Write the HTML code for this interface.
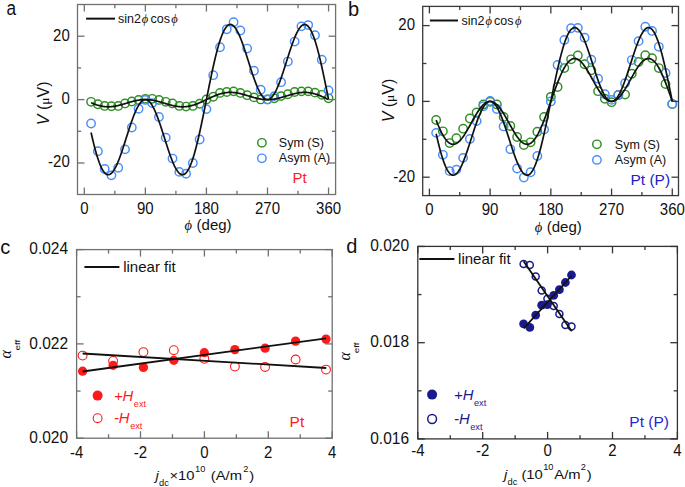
<!DOCTYPE html>
<html><head><meta charset="utf-8"><style>
html,body{margin:0;padding:0;background:#fff;}
svg{display:block;font-family:"Liberation Sans", sans-serif;}
</style></head><body>
<svg width="685" height="487" viewBox="0 0 685 487">
<rect width="685" height="487" fill="#fff"/>
<circle cx="91.08" cy="101.82" r="4.2" fill="none" stroke="#2f8f22" stroke-width="1.45"/>
<circle cx="97.87" cy="104.20" r="4.2" fill="none" stroke="#2f8f22" stroke-width="1.45"/>
<circle cx="104.66" cy="105.94" r="4.2" fill="none" stroke="#2f8f22" stroke-width="1.45"/>
<circle cx="111.44" cy="106.26" r="4.2" fill="none" stroke="#2f8f22" stroke-width="1.45"/>
<circle cx="118.22" cy="105.94" r="4.2" fill="none" stroke="#2f8f22" stroke-width="1.45"/>
<circle cx="125.01" cy="103.40" r="4.2" fill="none" stroke="#2f8f22" stroke-width="1.45"/>
<circle cx="131.79" cy="101.50" r="4.2" fill="none" stroke="#2f8f22" stroke-width="1.45"/>
<circle cx="138.58" cy="99.92" r="4.2" fill="none" stroke="#2f8f22" stroke-width="1.45"/>
<circle cx="145.37" cy="98.81" r="4.2" fill="none" stroke="#2f8f22" stroke-width="1.45"/>
<circle cx="152.15" cy="98.81" r="4.2" fill="none" stroke="#2f8f22" stroke-width="1.45"/>
<circle cx="158.94" cy="99.92" r="4.2" fill="none" stroke="#2f8f22" stroke-width="1.45"/>
<circle cx="165.72" cy="101.82" r="4.2" fill="none" stroke="#2f8f22" stroke-width="1.45"/>
<circle cx="172.50" cy="103.40" r="4.2" fill="none" stroke="#2f8f22" stroke-width="1.45"/>
<circle cx="179.29" cy="105.94" r="4.2" fill="none" stroke="#2f8f22" stroke-width="1.45"/>
<circle cx="186.07" cy="106.57" r="4.2" fill="none" stroke="#2f8f22" stroke-width="1.45"/>
<circle cx="192.86" cy="105.94" r="4.2" fill="none" stroke="#2f8f22" stroke-width="1.45"/>
<circle cx="199.64" cy="103.72" r="4.2" fill="none" stroke="#2f8f22" stroke-width="1.45"/>
<circle cx="206.43" cy="99.41" r="4.2" fill="none" stroke="#2f8f22" stroke-width="1.45"/>
<circle cx="213.21" cy="96.75" r="4.2" fill="none" stroke="#2f8f22" stroke-width="1.45"/>
<circle cx="220.00" cy="92.94" r="4.2" fill="none" stroke="#2f8f22" stroke-width="1.45"/>
<circle cx="226.78" cy="91.99" r="4.2" fill="none" stroke="#2f8f22" stroke-width="1.45"/>
<circle cx="233.57" cy="91.36" r="4.2" fill="none" stroke="#2f8f22" stroke-width="1.45"/>
<circle cx="240.36" cy="92.94" r="4.2" fill="none" stroke="#2f8f22" stroke-width="1.45"/>
<circle cx="247.14" cy="95.16" r="4.2" fill="none" stroke="#2f8f22" stroke-width="1.45"/>
<circle cx="253.93" cy="97.38" r="4.2" fill="none" stroke="#2f8f22" stroke-width="1.45"/>
<circle cx="260.71" cy="99.41" r="4.2" fill="none" stroke="#2f8f22" stroke-width="1.45"/>
<circle cx="267.50" cy="99.41" r="4.2" fill="none" stroke="#2f8f22" stroke-width="1.45"/>
<circle cx="274.28" cy="98.33" r="4.2" fill="none" stroke="#2f8f22" stroke-width="1.45"/>
<circle cx="281.06" cy="96.11" r="4.2" fill="none" stroke="#2f8f22" stroke-width="1.45"/>
<circle cx="287.85" cy="94.21" r="4.2" fill="none" stroke="#2f8f22" stroke-width="1.45"/>
<circle cx="294.63" cy="91.99" r="4.2" fill="none" stroke="#2f8f22" stroke-width="1.45"/>
<circle cx="301.42" cy="91.36" r="4.2" fill="none" stroke="#2f8f22" stroke-width="1.45"/>
<circle cx="308.20" cy="91.36" r="4.2" fill="none" stroke="#2f8f22" stroke-width="1.45"/>
<circle cx="314.99" cy="92.63" r="4.2" fill="none" stroke="#2f8f22" stroke-width="1.45"/>
<circle cx="321.77" cy="94.84" r="4.2" fill="none" stroke="#2f8f22" stroke-width="1.45"/>
<circle cx="328.56" cy="98.33" r="4.2" fill="none" stroke="#2f8f22" stroke-width="1.45"/>
<circle cx="91.08" cy="123.53" r="4.2" fill="none" stroke="#4a8ef5" stroke-width="1.45"/>
<circle cx="97.87" cy="151.27" r="4.2" fill="none" stroke="#4a8ef5" stroke-width="1.45"/>
<circle cx="104.66" cy="169.02" r="4.2" fill="none" stroke="#4a8ef5" stroke-width="1.45"/>
<circle cx="111.44" cy="175.36" r="4.2" fill="none" stroke="#4a8ef5" stroke-width="1.45"/>
<circle cx="118.22" cy="167.75" r="4.2" fill="none" stroke="#4a8ef5" stroke-width="1.45"/>
<circle cx="125.01" cy="149.37" r="4.2" fill="none" stroke="#4a8ef5" stroke-width="1.45"/>
<circle cx="131.79" cy="127.50" r="4.2" fill="none" stroke="#4a8ef5" stroke-width="1.45"/>
<circle cx="138.58" cy="108.79" r="4.2" fill="none" stroke="#4a8ef5" stroke-width="1.45"/>
<circle cx="145.37" cy="99.92" r="4.2" fill="none" stroke="#4a8ef5" stroke-width="1.45"/>
<circle cx="152.15" cy="103.09" r="4.2" fill="none" stroke="#4a8ef5" stroke-width="1.45"/>
<circle cx="158.94" cy="117.03" r="4.2" fill="none" stroke="#4a8ef5" stroke-width="1.45"/>
<circle cx="165.72" cy="137.64" r="4.2" fill="none" stroke="#4a8ef5" stroke-width="1.45"/>
<circle cx="172.50" cy="158.56" r="4.2" fill="none" stroke="#4a8ef5" stroke-width="1.45"/>
<circle cx="179.29" cy="171.88" r="4.2" fill="none" stroke="#4a8ef5" stroke-width="1.45"/>
<circle cx="186.07" cy="173.78" r="4.2" fill="none" stroke="#4a8ef5" stroke-width="1.45"/>
<circle cx="192.86" cy="163.00" r="4.2" fill="none" stroke="#4a8ef5" stroke-width="1.45"/>
<circle cx="199.64" cy="139.54" r="4.2" fill="none" stroke="#4a8ef5" stroke-width="1.45"/>
<circle cx="206.43" cy="109.11" r="4.2" fill="none" stroke="#4a8ef5" stroke-width="1.45"/>
<circle cx="213.21" cy="75.19" r="4.2" fill="none" stroke="#4a8ef5" stroke-width="1.45"/>
<circle cx="220.00" cy="47.29" r="4.2" fill="none" stroke="#4a8ef5" stroke-width="1.45"/>
<circle cx="226.78" cy="29.23" r="4.2" fill="none" stroke="#4a8ef5" stroke-width="1.45"/>
<circle cx="233.57" cy="22.25" r="4.2" fill="none" stroke="#4a8ef5" stroke-width="1.45"/>
<circle cx="240.36" cy="30.49" r="4.2" fill="none" stroke="#4a8ef5" stroke-width="1.45"/>
<circle cx="247.14" cy="48.56" r="4.2" fill="none" stroke="#4a8ef5" stroke-width="1.45"/>
<circle cx="253.93" cy="70.75" r="4.2" fill="none" stroke="#4a8ef5" stroke-width="1.45"/>
<circle cx="260.71" cy="89.77" r="4.2" fill="none" stroke="#4a8ef5" stroke-width="1.45"/>
<circle cx="267.50" cy="99.41" r="4.2" fill="none" stroke="#4a8ef5" stroke-width="1.45"/>
<circle cx="274.28" cy="96.11" r="4.2" fill="none" stroke="#4a8ef5" stroke-width="1.45"/>
<circle cx="281.06" cy="82.16" r="4.2" fill="none" stroke="#4a8ef5" stroke-width="1.45"/>
<circle cx="287.85" cy="61.56" r="4.2" fill="none" stroke="#4a8ef5" stroke-width="1.45"/>
<circle cx="294.63" cy="41.59" r="4.2" fill="none" stroke="#4a8ef5" stroke-width="1.45"/>
<circle cx="301.42" cy="26.37" r="4.2" fill="none" stroke="#4a8ef5" stroke-width="1.45"/>
<circle cx="308.20" cy="25.10" r="4.2" fill="none" stroke="#4a8ef5" stroke-width="1.45"/>
<circle cx="314.99" cy="35.25" r="4.2" fill="none" stroke="#4a8ef5" stroke-width="1.45"/>
<circle cx="321.77" cy="59.66" r="4.2" fill="none" stroke="#4a8ef5" stroke-width="1.45"/>
<circle cx="328.56" cy="90.41" r="4.2" fill="none" stroke="#4a8ef5" stroke-width="1.45"/>
<polyline points="91.08,132.49 91.76,135.50 92.44,138.44 93.12,141.30 93.80,144.08 94.48,146.75 95.16,149.33 95.83,151.81 96.51,154.18 97.19,156.44 97.87,158.57 98.55,160.59 99.23,162.49 99.91,164.25 100.58,165.88 101.26,167.39 101.94,168.75 102.62,169.98 103.30,171.07 103.98,172.02 104.66,172.83 105.33,173.49 106.01,174.02 106.69,174.41 107.37,174.65 108.05,174.76 108.73,174.72 109.40,174.55 110.08,174.25 110.76,173.82 111.44,173.26 112.12,172.57 112.80,171.76 113.48,170.83 114.15,169.79 114.83,168.64 115.51,167.38 116.19,166.03 116.87,164.57 117.55,163.03 118.22,161.41 118.90,159.70 119.58,157.93 120.26,156.08 120.94,154.18 121.62,152.22 122.30,150.22 122.97,148.18 123.65,146.10 124.33,144.00 125.01,141.88 125.69,139.74 126.37,137.60 127.05,135.46 127.72,133.33 128.40,131.21 129.08,129.11 129.76,127.04 130.44,125.01 131.12,123.01 131.79,121.06 132.47,119.17 133.15,117.33 133.83,115.56 134.51,113.86 135.19,112.24 135.87,110.69 136.54,109.23 137.22,107.86 137.90,106.58 138.58,105.40 139.26,104.32 139.94,103.35 140.62,102.48 141.29,101.72 141.97,101.08 142.65,100.55 143.33,100.13 144.01,99.84 144.69,99.66 145.37,99.60 146.04,99.66 146.72,99.84 147.40,100.13 148.08,100.55 148.76,101.08 149.44,101.72 150.11,102.48 150.79,103.35 151.47,104.32 152.15,105.40 152.83,106.58 153.51,107.86 154.19,109.23 154.86,110.69 155.54,112.24 156.22,113.86 156.90,115.56 157.58,117.33 158.26,119.17 158.94,121.06 159.61,123.01 160.29,125.01 160.97,127.04 161.65,129.11 162.33,131.21 163.01,133.33 163.68,135.46 164.36,137.60 165.04,139.74 165.72,141.88 166.40,144.00 167.08,146.10 167.76,148.18 168.43,150.22 169.11,152.22 169.79,154.18 170.47,156.08 171.15,157.93 171.83,159.70 172.50,161.41 173.18,163.03 173.86,164.57 174.54,166.03 175.22,167.38 175.90,168.64 176.58,169.79 177.25,170.83 177.93,171.76 178.61,172.57 179.29,173.26 179.97,173.82 180.65,174.25 181.33,174.55 182.00,174.72 182.68,174.76 183.36,174.65 184.04,174.41 184.72,174.02 185.40,173.49 186.07,172.83 186.75,172.02 187.43,171.07 188.11,169.98 188.79,168.75 189.47,167.39 190.15,165.88 190.82,164.25 191.50,162.49 192.18,160.59 192.86,158.57 193.54,156.44 194.22,154.18 194.90,151.81 195.57,149.33 196.25,146.75 196.93,144.08 197.61,141.30 198.29,138.44 198.97,135.50 199.64,132.49 200.32,129.40 201.00,126.25 201.68,123.04 202.36,119.79 203.04,116.49 203.72,113.16 204.39,109.79 205.07,106.41 205.75,103.01 206.43,99.60 207.11,96.19 207.79,92.79 208.47,89.41 209.14,86.04 209.82,82.71 210.50,79.41 211.18,76.16 211.86,72.95 212.54,69.80 213.21,66.71 213.89,63.70 214.57,60.76 215.25,57.90 215.93,55.12 216.61,52.45 217.29,49.87 217.96,47.39 218.64,45.02 219.32,42.76 220.00,40.63 220.68,38.61 221.36,36.71 222.04,34.95 222.71,33.32 223.39,31.81 224.07,30.45 224.75,29.22 225.43,28.13 226.11,27.18 226.78,26.37 227.46,25.71 228.14,25.18 228.82,24.79 229.50,24.55 230.18,24.44 230.86,24.48 231.53,24.65 232.21,24.95 232.89,25.38 233.57,25.94 234.25,26.63 234.93,27.44 235.61,28.37 236.28,29.41 236.96,30.56 237.64,31.82 238.32,33.17 239.00,34.63 239.68,36.17 240.36,37.79 241.03,39.50 241.71,41.27 242.39,43.12 243.07,45.02 243.75,46.98 244.43,48.98 245.10,51.02 245.78,53.10 246.46,55.20 247.14,57.32 247.82,59.46 248.50,61.60 249.18,63.74 249.85,65.87 250.53,67.99 251.21,70.09 251.89,72.16 252.57,74.19 253.25,76.19 253.93,78.14 254.60,80.03 255.28,81.87 255.96,83.64 256.64,85.34 257.32,86.96 258.00,88.51 258.67,89.97 259.35,91.34 260.03,92.62 260.71,93.80 261.39,94.88 262.07,95.85 262.75,96.72 263.42,97.48 264.10,98.12 264.78,98.65 265.46,99.07 266.14,99.36 266.82,99.54 267.50,99.60 268.17,99.54 268.85,99.36 269.53,99.07 270.21,98.65 270.89,98.12 271.57,97.48 272.24,96.72 272.92,95.85 273.60,94.88 274.28,93.80 274.96,92.62 275.64,91.34 276.32,89.97 276.99,88.51 277.67,86.96 278.35,85.34 279.03,83.64 279.71,81.87 280.39,80.03 281.06,78.14 281.74,76.19 282.42,74.19 283.10,72.16 283.78,70.09 284.46,67.99 285.14,65.87 285.81,63.74 286.49,61.60 287.17,59.46 287.85,57.32 288.53,55.20 289.21,53.10 289.89,51.02 290.56,48.98 291.24,46.98 291.92,45.02 292.60,43.12 293.28,41.27 293.96,39.50 294.63,37.79 295.31,36.17 295.99,34.63 296.67,33.17 297.35,31.82 298.03,30.56 298.71,29.41 299.38,28.37 300.06,27.44 300.74,26.63 301.42,25.94 302.10,25.38 302.78,24.95 303.46,24.65 304.13,24.48 304.81,24.44 305.49,24.55 306.17,24.79 306.85,25.18 307.53,25.71 308.20,26.37 308.88,27.18 309.56,28.13 310.24,29.22 310.92,30.45 311.60,31.81 312.28,33.32 312.95,34.95 313.63,36.71 314.31,38.61 314.99,40.63 315.67,42.76 316.35,45.02 317.03,47.39 317.70,49.87 318.38,52.45 319.06,55.12 319.74,57.90 320.42,60.76 321.10,63.70 321.77,66.71 322.45,69.80 323.13,72.95 323.81,76.16 324.49,79.41 325.17,82.71 325.85,86.04 326.52,89.41 327.20,92.79 327.88,96.19 328.56,99.60" fill="none" stroke="#111" stroke-width="1.7" stroke-linejoin="round"/>
<polyline points="91.08,102.75 91.76,103.04 92.44,103.32 93.12,103.59 93.80,103.86 94.48,104.12 95.16,104.36 95.83,104.60 96.51,104.83 97.19,105.04 97.87,105.25 98.55,105.44 99.23,105.62 99.91,105.79 100.58,105.95 101.26,106.09 101.94,106.22 102.62,106.34 103.30,106.45 103.98,106.54 104.66,106.61 105.33,106.68 106.01,106.73 106.69,106.76 107.37,106.79 108.05,106.80 108.73,106.80 109.40,106.78 110.08,106.75 110.76,106.71 111.44,106.65 112.12,106.59 112.80,106.51 113.48,106.42 114.15,106.32 114.83,106.21 115.51,106.09 116.19,105.96 116.87,105.82 117.55,105.68 118.22,105.52 118.90,105.36 119.58,105.19 120.26,105.01 120.94,104.83 121.62,104.64 122.30,104.45 122.97,104.25 123.65,104.05 124.33,103.85 125.01,103.65 125.69,103.44 126.37,103.24 127.05,103.03 127.72,102.83 128.40,102.63 129.08,102.43 129.76,102.23 130.44,102.03 131.12,101.84 131.79,101.66 132.47,101.47 133.15,101.30 133.83,101.13 134.51,100.97 135.19,100.81 135.87,100.66 136.54,100.52 137.22,100.39 137.90,100.27 138.58,100.16 139.26,100.05 139.94,99.96 140.62,99.88 141.29,99.80 141.97,99.74 142.65,99.69 143.33,99.65 144.01,99.62 144.69,99.61 145.37,99.60 146.04,99.61 146.72,99.62 147.40,99.65 148.08,99.69 148.76,99.74 149.44,99.80 150.11,99.88 150.79,99.96 151.47,100.05 152.15,100.16 152.83,100.27 153.51,100.39 154.19,100.52 154.86,100.66 155.54,100.81 156.22,100.97 156.90,101.13 157.58,101.30 158.26,101.47 158.94,101.66 159.61,101.84 160.29,102.03 160.97,102.23 161.65,102.43 162.33,102.63 163.01,102.83 163.68,103.03 164.36,103.24 165.04,103.44 165.72,103.65 166.40,103.85 167.08,104.05 167.76,104.25 168.43,104.45 169.11,104.64 169.79,104.83 170.47,105.01 171.15,105.19 171.83,105.36 172.50,105.52 173.18,105.68 173.86,105.82 174.54,105.96 175.22,106.09 175.90,106.21 176.58,106.32 177.25,106.42 177.93,106.51 178.61,106.59 179.29,106.65 179.97,106.71 180.65,106.75 181.33,106.78 182.00,106.80 182.68,106.80 183.36,106.79 184.04,106.76 184.72,106.73 185.40,106.68 186.07,106.61 186.75,106.54 187.43,106.45 188.11,106.34 188.79,106.22 189.47,106.09 190.15,105.95 190.82,105.79 191.50,105.62 192.18,105.44 192.86,105.25 193.54,105.04 194.22,104.83 194.90,104.60 195.57,104.36 196.25,104.12 196.93,103.86 197.61,103.59 198.29,103.32 198.97,103.04 199.64,102.75 200.32,102.45 201.00,102.15 201.68,101.85 202.36,101.53 203.04,101.22 203.72,100.90 204.39,100.58 205.07,100.25 205.75,99.93 206.43,99.60 207.11,99.27 207.79,98.95 208.47,98.62 209.14,98.30 209.82,97.98 210.50,97.67 211.18,97.35 211.86,97.05 212.54,96.75 213.21,96.45 213.89,96.16 214.57,95.88 215.25,95.61 215.93,95.34 216.61,95.08 217.29,94.84 217.96,94.60 218.64,94.37 219.32,94.16 220.00,93.95 220.68,93.76 221.36,93.58 222.04,93.41 222.71,93.25 223.39,93.11 224.07,92.98 224.75,92.86 225.43,92.75 226.11,92.66 226.78,92.59 227.46,92.52 228.14,92.47 228.82,92.44 229.50,92.41 230.18,92.40 230.86,92.40 231.53,92.42 232.21,92.45 232.89,92.49 233.57,92.55 234.25,92.61 234.93,92.69 235.61,92.78 236.28,92.88 236.96,92.99 237.64,93.11 238.32,93.24 239.00,93.38 239.68,93.52 240.36,93.68 241.03,93.84 241.71,94.01 242.39,94.19 243.07,94.37 243.75,94.56 244.43,94.75 245.10,94.95 245.78,95.15 246.46,95.35 247.14,95.55 247.82,95.76 248.50,95.96 249.18,96.17 249.85,96.37 250.53,96.57 251.21,96.77 251.89,96.97 252.57,97.17 253.25,97.36 253.93,97.54 254.60,97.73 255.28,97.90 255.96,98.07 256.64,98.23 257.32,98.39 258.00,98.54 258.67,98.68 259.35,98.81 260.03,98.93 260.71,99.04 261.39,99.15 262.07,99.24 262.75,99.32 263.42,99.40 264.10,99.46 264.78,99.51 265.46,99.55 266.14,99.58 266.82,99.59 267.50,99.60 268.17,99.59 268.85,99.58 269.53,99.55 270.21,99.51 270.89,99.46 271.57,99.40 272.24,99.32 272.92,99.24 273.60,99.15 274.28,99.04 274.96,98.93 275.64,98.81 276.32,98.68 276.99,98.54 277.67,98.39 278.35,98.23 279.03,98.07 279.71,97.90 280.39,97.73 281.06,97.54 281.74,97.36 282.42,97.17 283.10,96.97 283.78,96.77 284.46,96.57 285.14,96.37 285.81,96.17 286.49,95.96 287.17,95.76 287.85,95.55 288.53,95.35 289.21,95.15 289.89,94.95 290.56,94.75 291.24,94.56 291.92,94.37 292.60,94.19 293.28,94.01 293.96,93.84 294.63,93.68 295.31,93.52 295.99,93.38 296.67,93.24 297.35,93.11 298.03,92.99 298.71,92.88 299.38,92.78 300.06,92.69 300.74,92.61 301.42,92.55 302.10,92.49 302.78,92.45 303.46,92.42 304.13,92.40 304.81,92.40 305.49,92.41 306.17,92.44 306.85,92.47 307.53,92.52 308.20,92.59 308.88,92.66 309.56,92.75 310.24,92.86 310.92,92.98 311.60,93.11 312.28,93.25 312.95,93.41 313.63,93.58 314.31,93.76 314.99,93.95 315.67,94.16 316.35,94.37 317.03,94.60 317.70,94.84 318.38,95.08 319.06,95.34 319.74,95.61 320.42,95.88 321.10,96.16 321.77,96.45 322.45,96.75 323.13,97.05 323.81,97.35 324.49,97.67 325.17,97.98 325.85,98.30 326.52,98.62 327.20,98.95 327.88,99.27 328.56,99.60" fill="none" stroke="#111" stroke-width="1.7" stroke-linejoin="round"/>
<rect x="77.50" y="4.50" width="258.10" height="190.00" fill="none" stroke="#707070" stroke-width="1.3"/>
<line x1="84.30" y1="194.50" x2="84.30" y2="187.50" stroke="#707070" stroke-width="1.3"/>
<line x1="84.30" y1="4.50" x2="84.30" y2="11.50" stroke="#707070" stroke-width="1.3"/>
<line x1="145.37" y1="194.50" x2="145.37" y2="187.50" stroke="#707070" stroke-width="1.3"/>
<line x1="145.37" y1="4.50" x2="145.37" y2="11.50" stroke="#707070" stroke-width="1.3"/>
<line x1="206.43" y1="194.50" x2="206.43" y2="187.50" stroke="#707070" stroke-width="1.3"/>
<line x1="206.43" y1="4.50" x2="206.43" y2="11.50" stroke="#707070" stroke-width="1.3"/>
<line x1="267.50" y1="194.50" x2="267.50" y2="187.50" stroke="#707070" stroke-width="1.3"/>
<line x1="267.50" y1="4.50" x2="267.50" y2="11.50" stroke="#707070" stroke-width="1.3"/>
<line x1="328.56" y1="194.50" x2="328.56" y2="187.50" stroke="#707070" stroke-width="1.3"/>
<line x1="328.56" y1="4.50" x2="328.56" y2="11.50" stroke="#707070" stroke-width="1.3"/>
<line x1="114.83" y1="194.50" x2="114.83" y2="190.80" stroke="#707070" stroke-width="1.3"/>
<line x1="114.83" y1="4.50" x2="114.83" y2="8.20" stroke="#707070" stroke-width="1.3"/>
<line x1="175.90" y1="194.50" x2="175.90" y2="190.80" stroke="#707070" stroke-width="1.3"/>
<line x1="175.90" y1="4.50" x2="175.90" y2="8.20" stroke="#707070" stroke-width="1.3"/>
<line x1="236.96" y1="194.50" x2="236.96" y2="190.80" stroke="#707070" stroke-width="1.3"/>
<line x1="236.96" y1="4.50" x2="236.96" y2="8.20" stroke="#707070" stroke-width="1.3"/>
<line x1="298.03" y1="194.50" x2="298.03" y2="190.80" stroke="#707070" stroke-width="1.3"/>
<line x1="298.03" y1="4.50" x2="298.03" y2="8.20" stroke="#707070" stroke-width="1.3"/>
<line x1="77.50" y1="163.00" x2="84.50" y2="163.00" stroke="#707070" stroke-width="1.3"/>
<line x1="335.60" y1="163.00" x2="328.60" y2="163.00" stroke="#707070" stroke-width="1.3"/>
<line x1="77.50" y1="99.60" x2="84.50" y2="99.60" stroke="#707070" stroke-width="1.3"/>
<line x1="335.60" y1="99.60" x2="328.60" y2="99.60" stroke="#707070" stroke-width="1.3"/>
<line x1="77.50" y1="36.20" x2="84.50" y2="36.20" stroke="#707070" stroke-width="1.3"/>
<line x1="335.60" y1="36.20" x2="328.60" y2="36.20" stroke="#707070" stroke-width="1.3"/>
<line x1="77.50" y1="131.30" x2="81.20" y2="131.30" stroke="#707070" stroke-width="1.3"/>
<line x1="335.60" y1="131.30" x2="331.90" y2="131.30" stroke="#707070" stroke-width="1.3"/>
<line x1="77.50" y1="67.90" x2="81.20" y2="67.90" stroke="#707070" stroke-width="1.3"/>
<line x1="335.60" y1="67.90" x2="331.90" y2="67.90" stroke="#707070" stroke-width="1.3"/>
<text transform="translate(69.80,40.50) scale(1,1.08)" font-size="15" fill="#111" text-anchor="end" >20</text>
<text transform="translate(69.80,103.90) scale(1,1.08)" font-size="15" fill="#111" text-anchor="end" >0</text>
<text transform="translate(69.80,167.30) scale(1,1.08)" font-size="15" fill="#111" text-anchor="end" >-20</text>
<text transform="translate(84.30,213.70) scale(1,1.05)" font-size="15" fill="#111" text-anchor="middle" >0</text>
<text transform="translate(145.37,213.70) scale(1,1.05)" font-size="15" fill="#111" text-anchor="middle" >90</text>
<text transform="translate(206.43,213.70) scale(1,1.05)" font-size="15" fill="#111" text-anchor="middle" >180</text>
<text transform="translate(267.50,213.70) scale(1,1.05)" font-size="15" fill="#111" text-anchor="middle" >270</text>
<text transform="translate(328.56,213.70) scale(1,1.05)" font-size="15" fill="#111" text-anchor="middle" >360</text>
<circle cx="436.15" cy="119.97" r="4.2" fill="none" stroke="#2f8f22" stroke-width="1.45"/>
<circle cx="442.89" cy="131.34" r="4.2" fill="none" stroke="#2f8f22" stroke-width="1.45"/>
<circle cx="449.64" cy="143.09" r="4.2" fill="none" stroke="#2f8f22" stroke-width="1.45"/>
<circle cx="456.39" cy="138.16" r="4.2" fill="none" stroke="#2f8f22" stroke-width="1.45"/>
<circle cx="463.13" cy="128.69" r="4.2" fill="none" stroke="#2f8f22" stroke-width="1.45"/>
<circle cx="469.88" cy="118.46" r="4.2" fill="none" stroke="#2f8f22" stroke-width="1.45"/>
<circle cx="476.63" cy="112.39" r="4.2" fill="none" stroke="#2f8f22" stroke-width="1.45"/>
<circle cx="483.38" cy="104.43" r="4.2" fill="none" stroke="#2f8f22" stroke-width="1.45"/>
<circle cx="490.12" cy="101.78" r="4.2" fill="none" stroke="#2f8f22" stroke-width="1.45"/>
<circle cx="496.87" cy="104.43" r="4.2" fill="none" stroke="#2f8f22" stroke-width="1.45"/>
<circle cx="503.62" cy="116.94" r="4.2" fill="none" stroke="#2f8f22" stroke-width="1.45"/>
<circle cx="510.36" cy="126.04" r="4.2" fill="none" stroke="#2f8f22" stroke-width="1.45"/>
<circle cx="517.11" cy="137.03" r="4.2" fill="none" stroke="#2f8f22" stroke-width="1.45"/>
<circle cx="523.86" cy="144.99" r="4.2" fill="none" stroke="#2f8f22" stroke-width="1.45"/>
<circle cx="530.61" cy="142.33" r="4.2" fill="none" stroke="#2f8f22" stroke-width="1.45"/>
<circle cx="537.35" cy="131.72" r="4.2" fill="none" stroke="#2f8f22" stroke-width="1.45"/>
<circle cx="544.10" cy="116.94" r="4.2" fill="none" stroke="#2f8f22" stroke-width="1.45"/>
<circle cx="550.85" cy="96.85" r="4.2" fill="none" stroke="#2f8f22" stroke-width="1.45"/>
<circle cx="557.59" cy="87.00" r="4.2" fill="none" stroke="#2f8f22" stroke-width="1.45"/>
<circle cx="564.34" cy="68.05" r="4.2" fill="none" stroke="#2f8f22" stroke-width="1.45"/>
<circle cx="571.09" cy="59.33" r="4.2" fill="none" stroke="#2f8f22" stroke-width="1.45"/>
<circle cx="577.83" cy="55.54" r="4.2" fill="none" stroke="#2f8f22" stroke-width="1.45"/>
<circle cx="584.58" cy="64.26" r="4.2" fill="none" stroke="#2f8f22" stroke-width="1.45"/>
<circle cx="591.33" cy="70.32" r="4.2" fill="none" stroke="#2f8f22" stroke-width="1.45"/>
<circle cx="598.07" cy="91.17" r="4.2" fill="none" stroke="#2f8f22" stroke-width="1.45"/>
<circle cx="604.82" cy="98.75" r="4.2" fill="none" stroke="#2f8f22" stroke-width="1.45"/>
<circle cx="611.57" cy="102.16" r="4.2" fill="none" stroke="#2f8f22" stroke-width="1.45"/>
<circle cx="618.32" cy="94.96" r="4.2" fill="none" stroke="#2f8f22" stroke-width="1.45"/>
<circle cx="625.06" cy="94.58" r="4.2" fill="none" stroke="#2f8f22" stroke-width="1.45"/>
<circle cx="631.81" cy="73.73" r="4.2" fill="none" stroke="#2f8f22" stroke-width="1.45"/>
<circle cx="638.56" cy="61.98" r="4.2" fill="none" stroke="#2f8f22" stroke-width="1.45"/>
<circle cx="645.30" cy="55.16" r="4.2" fill="none" stroke="#2f8f22" stroke-width="1.45"/>
<circle cx="652.05" cy="58.19" r="4.2" fill="none" stroke="#2f8f22" stroke-width="1.45"/>
<circle cx="658.80" cy="68.05" r="4.2" fill="none" stroke="#2f8f22" stroke-width="1.45"/>
<circle cx="665.54" cy="83.97" r="4.2" fill="none" stroke="#2f8f22" stroke-width="1.45"/>
<circle cx="672.29" cy="104.05" r="4.2" fill="none" stroke="#2f8f22" stroke-width="1.45"/>
<circle cx="436.15" cy="132.86" r="4.2" fill="none" stroke="#4a8ef5" stroke-width="1.45"/>
<circle cx="442.89" cy="154.84" r="4.2" fill="none" stroke="#4a8ef5" stroke-width="1.45"/>
<circle cx="449.64" cy="171.14" r="4.2" fill="none" stroke="#4a8ef5" stroke-width="1.45"/>
<circle cx="456.39" cy="169.62" r="4.2" fill="none" stroke="#4a8ef5" stroke-width="1.45"/>
<circle cx="463.13" cy="157.87" r="4.2" fill="none" stroke="#4a8ef5" stroke-width="1.45"/>
<circle cx="469.88" cy="138.92" r="4.2" fill="none" stroke="#4a8ef5" stroke-width="1.45"/>
<circle cx="476.63" cy="121.11" r="4.2" fill="none" stroke="#4a8ef5" stroke-width="1.45"/>
<circle cx="483.38" cy="106.33" r="4.2" fill="none" stroke="#4a8ef5" stroke-width="1.45"/>
<circle cx="490.12" cy="101.02" r="4.2" fill="none" stroke="#4a8ef5" stroke-width="1.45"/>
<circle cx="496.87" cy="108.98" r="4.2" fill="none" stroke="#4a8ef5" stroke-width="1.45"/>
<circle cx="503.62" cy="126.41" r="4.2" fill="none" stroke="#4a8ef5" stroke-width="1.45"/>
<circle cx="510.36" cy="149.15" r="4.2" fill="none" stroke="#4a8ef5" stroke-width="1.45"/>
<circle cx="517.11" cy="168.48" r="4.2" fill="none" stroke="#4a8ef5" stroke-width="1.45"/>
<circle cx="523.86" cy="177.58" r="4.2" fill="none" stroke="#4a8ef5" stroke-width="1.45"/>
<circle cx="530.61" cy="172.27" r="4.2" fill="none" stroke="#4a8ef5" stroke-width="1.45"/>
<circle cx="537.35" cy="155.98" r="4.2" fill="none" stroke="#4a8ef5" stroke-width="1.45"/>
<circle cx="544.10" cy="129.45" r="4.2" fill="none" stroke="#4a8ef5" stroke-width="1.45"/>
<circle cx="550.85" cy="101.40" r="4.2" fill="none" stroke="#4a8ef5" stroke-width="1.45"/>
<circle cx="557.59" cy="65.02" r="4.2" fill="none" stroke="#4a8ef5" stroke-width="1.45"/>
<circle cx="564.34" cy="40.00" r="4.2" fill="none" stroke="#4a8ef5" stroke-width="1.45"/>
<circle cx="571.09" cy="28.25" r="4.2" fill="none" stroke="#4a8ef5" stroke-width="1.45"/>
<circle cx="577.83" cy="27.87" r="4.2" fill="none" stroke="#4a8ef5" stroke-width="1.45"/>
<circle cx="584.58" cy="37.73" r="4.2" fill="none" stroke="#4a8ef5" stroke-width="1.45"/>
<circle cx="591.33" cy="59.71" r="4.2" fill="none" stroke="#4a8ef5" stroke-width="1.45"/>
<circle cx="598.07" cy="78.66" r="4.2" fill="none" stroke="#4a8ef5" stroke-width="1.45"/>
<circle cx="604.82" cy="94.20" r="4.2" fill="none" stroke="#4a8ef5" stroke-width="1.45"/>
<circle cx="611.57" cy="99.88" r="4.2" fill="none" stroke="#4a8ef5" stroke-width="1.45"/>
<circle cx="618.32" cy="94.96" r="4.2" fill="none" stroke="#4a8ef5" stroke-width="1.45"/>
<circle cx="625.06" cy="83.21" r="4.2" fill="none" stroke="#4a8ef5" stroke-width="1.45"/>
<circle cx="631.81" cy="60.09" r="4.2" fill="none" stroke="#4a8ef5" stroke-width="1.45"/>
<circle cx="638.56" cy="41.14" r="4.2" fill="none" stroke="#4a8ef5" stroke-width="1.45"/>
<circle cx="645.30" cy="26.74" r="4.2" fill="none" stroke="#4a8ef5" stroke-width="1.45"/>
<circle cx="652.05" cy="30.91" r="4.2" fill="none" stroke="#4a8ef5" stroke-width="1.45"/>
<circle cx="658.80" cy="46.82" r="4.2" fill="none" stroke="#4a8ef5" stroke-width="1.45"/>
<circle cx="665.54" cy="72.98" r="4.2" fill="none" stroke="#4a8ef5" stroke-width="1.45"/>
<circle cx="672.29" cy="104.05" r="4.2" fill="none" stroke="#4a8ef5" stroke-width="1.45"/>
<polyline points="436.15,133.70 436.82,136.66 437.50,139.55 438.17,142.36 438.85,145.08 439.52,147.71 440.20,150.24 440.87,152.68 441.54,155.00 442.22,157.22 442.89,159.32 443.57,161.30 444.24,163.16 444.92,164.89 445.59,166.50 446.27,167.97 446.94,169.31 447.62,170.52 448.29,171.59 448.97,172.52 449.64,173.32 450.32,173.97 450.99,174.49 451.67,174.87 452.34,175.11 453.01,175.21 453.69,175.18 454.36,175.01 455.04,174.72 455.71,174.29 456.39,173.74 457.06,173.06 457.74,172.27 458.41,171.36 459.09,170.33 459.76,169.20 460.44,167.97 461.11,166.64 461.79,165.21 462.46,163.70 463.13,162.10 463.81,160.42 464.48,158.68 465.16,156.87 465.83,155.00 466.51,153.08 467.18,151.11 467.86,149.11 468.53,147.07 469.21,145.00 469.88,142.92 470.56,140.82 471.23,138.72 471.91,136.62 472.58,134.52 473.26,132.44 473.93,130.38 474.60,128.35 475.28,126.35 475.95,124.39 476.63,122.48 477.30,120.62 477.98,118.82 478.65,117.08 479.33,115.41 480.00,113.81 480.68,112.29 481.35,110.86 482.03,109.51 482.70,108.25 483.38,107.09 484.05,106.04 484.73,105.08 485.40,104.23 486.07,103.48 486.75,102.85 487.42,102.33 488.10,101.92 488.77,101.63 489.45,101.46 490.12,101.40 490.80,101.46 491.47,101.63 492.15,101.92 492.82,102.33 493.50,102.85 494.17,103.48 494.85,104.23 495.52,105.08 496.20,106.04 496.87,107.09 497.54,108.25 498.22,109.51 498.89,110.86 499.57,112.29 500.24,113.81 500.92,115.41 501.59,117.08 502.27,118.82 502.94,120.62 503.62,122.48 504.29,124.39 504.97,126.35 505.64,128.35 506.32,130.38 506.99,132.44 507.67,134.52 508.34,136.62 509.01,138.72 509.69,140.82 510.36,142.92 511.04,145.00 511.71,147.07 512.39,149.11 513.06,151.11 513.74,153.08 514.41,155.00 515.09,156.87 515.76,158.68 516.44,160.42 517.11,162.10 517.79,163.70 518.46,165.21 519.14,166.64 519.81,167.97 520.48,169.20 521.16,170.33 521.83,171.36 522.51,172.27 523.18,173.06 523.86,173.74 524.53,174.29 525.21,174.72 525.88,175.01 526.56,175.18 527.23,175.21 527.91,175.11 528.58,174.87 529.26,174.49 529.93,173.97 530.61,173.32 531.28,172.52 531.95,171.59 532.63,170.52 533.30,169.31 533.98,167.97 534.65,166.50 535.33,164.89 536.00,163.16 536.68,161.30 537.35,159.32 538.03,157.22 538.70,155.00 539.38,152.68 540.05,150.24 540.73,147.71 541.40,145.08 542.07,142.36 542.75,139.55 543.42,136.66 544.10,133.70 544.77,130.67 545.45,127.57 546.12,124.42 546.80,121.23 547.47,117.99 548.15,114.71 548.82,111.41 549.50,108.08 550.17,104.75 550.85,101.40 551.52,98.05 552.20,94.72 552.87,91.39 553.54,88.09 554.22,84.81 554.89,81.57 555.57,78.38 556.24,75.23 556.92,72.13 557.59,69.10 558.27,66.14 558.94,63.25 559.62,60.44 560.29,57.72 560.97,55.09 561.64,52.56 562.32,50.12 562.99,47.80 563.67,45.58 564.34,43.48 565.01,41.50 565.69,39.64 566.36,37.91 567.04,36.30 567.71,34.83 568.39,33.49 569.06,32.28 569.74,31.21 570.41,30.28 571.09,29.48 571.76,28.83 572.44,28.31 573.11,27.93 573.79,27.69 574.46,27.59 575.14,27.62 575.81,27.79 576.48,28.08 577.16,28.51 577.83,29.06 578.51,29.74 579.18,30.53 579.86,31.44 580.53,32.47 581.21,33.60 581.88,34.83 582.56,36.16 583.23,37.59 583.91,39.10 584.58,40.70 585.26,42.38 585.93,44.12 586.61,45.93 587.28,47.80 587.95,49.72 588.63,51.69 589.30,53.69 589.98,55.73 590.65,57.80 591.33,59.88 592.00,61.98 592.68,64.08 593.35,66.18 594.03,68.28 594.70,70.36 595.38,72.42 596.05,74.45 596.73,76.45 597.40,78.41 598.07,80.32 598.75,82.18 599.42,83.98 600.10,85.72 600.77,87.39 601.45,88.99 602.12,90.51 602.80,91.94 603.47,93.29 604.15,94.55 604.82,95.71 605.50,96.76 606.17,97.72 606.85,98.57 607.52,99.32 608.20,99.95 608.87,100.47 609.54,100.88 610.22,101.17 610.89,101.34 611.57,101.40 612.24,101.34 612.92,101.17 613.59,100.88 614.27,100.47 614.94,99.95 615.62,99.32 616.29,98.57 616.97,97.72 617.64,96.76 618.32,95.71 618.99,94.55 619.67,93.29 620.34,91.94 621.01,90.51 621.69,88.99 622.36,87.39 623.04,85.72 623.71,83.98 624.39,82.18 625.06,80.32 625.74,78.41 626.41,76.45 627.09,74.45 627.76,72.42 628.44,70.36 629.11,68.28 629.79,66.18 630.46,64.08 631.14,61.98 631.81,59.88 632.48,57.80 633.16,55.73 633.83,53.69 634.51,51.69 635.18,49.72 635.86,47.80 636.53,45.93 637.21,44.12 637.88,42.38 638.56,40.70 639.23,39.10 639.91,37.59 640.58,36.16 641.26,34.83 641.93,33.60 642.61,32.47 643.28,31.44 643.95,30.53 644.63,29.74 645.30,29.06 645.98,28.51 646.65,28.08 647.33,27.79 648.00,27.62 648.68,27.59 649.35,27.69 650.03,27.93 650.70,28.31 651.38,28.83 652.05,29.48 652.73,30.28 653.40,31.21 654.08,32.28 654.75,33.49 655.42,34.83 656.10,36.30 656.77,37.91 657.45,39.64 658.12,41.50 658.80,43.48 659.47,45.58 660.15,47.80 660.82,50.12 661.50,52.56 662.17,55.09 662.85,57.72 663.52,60.44 664.20,63.25 664.87,66.14 665.54,69.10 666.22,72.13 666.89,75.23 667.57,78.38 668.24,81.57 668.92,84.81 669.59,88.09 670.27,91.39 670.94,94.72 671.62,98.05 672.29,101.40" fill="none" stroke="#111" stroke-width="1.7" stroke-linejoin="round"/>
<polyline points="436.15,120.17 436.82,121.89 437.50,123.57 438.17,125.20 438.85,126.78 439.52,128.31 440.20,129.78 440.87,131.19 441.54,132.54 442.22,133.83 442.89,135.05 443.57,136.20 444.24,137.28 444.92,138.29 445.59,139.22 446.27,140.08 446.94,140.86 447.62,141.56 448.29,142.18 448.97,142.72 449.64,143.18 450.32,143.57 450.99,143.87 451.67,144.09 452.34,144.22 453.01,144.29 453.69,144.27 454.36,144.17 455.04,144.00 455.71,143.75 456.39,143.43 457.06,143.04 457.74,142.58 458.41,142.05 459.09,141.45 459.76,140.80 460.44,140.08 461.11,139.30 461.79,138.48 462.46,137.60 463.13,136.67 463.81,135.70 464.48,134.68 465.16,133.63 465.83,132.54 466.51,131.43 467.18,130.29 467.86,129.12 468.53,127.94 469.21,126.74 469.88,125.52 470.56,124.31 471.23,123.08 471.91,121.86 472.58,120.65 473.26,119.44 473.93,118.24 474.60,117.06 475.28,115.90 475.95,114.76 476.63,113.65 477.30,112.57 477.98,111.52 478.65,110.51 479.33,109.54 480.00,108.61 480.68,107.73 481.35,106.89 482.03,106.11 482.70,105.38 483.38,104.71 484.05,104.09 484.73,103.54 485.40,103.04 486.07,102.61 486.75,102.24 487.42,101.94 488.10,101.70 488.77,101.54 489.45,101.43 490.12,101.40 490.80,101.43 491.47,101.54 492.15,101.70 492.82,101.94 493.50,102.24 494.17,102.61 494.85,103.04 495.52,103.54 496.20,104.09 496.87,104.71 497.54,105.38 498.22,106.11 498.89,106.89 499.57,107.73 500.24,108.61 500.92,109.54 501.59,110.51 502.27,111.52 502.94,112.57 503.62,113.65 504.29,114.76 504.97,115.90 505.64,117.06 506.32,118.24 506.99,119.44 507.67,120.65 508.34,121.86 509.01,123.08 509.69,124.31 510.36,125.52 511.04,126.74 511.71,127.94 512.39,129.12 513.06,130.29 513.74,131.43 514.41,132.54 515.09,133.63 515.76,134.68 516.44,135.70 517.11,136.67 517.79,137.60 518.46,138.48 519.14,139.30 519.81,140.08 520.48,140.80 521.16,141.45 521.83,142.05 522.51,142.58 523.18,143.04 523.86,143.43 524.53,143.75 525.21,144.00 525.88,144.17 526.56,144.27 527.23,144.29 527.91,144.22 528.58,144.09 529.26,143.87 529.93,143.57 530.61,143.18 531.28,142.72 531.95,142.18 532.63,141.56 533.30,140.86 533.98,140.08 534.65,139.22 535.33,138.29 536.00,137.28 536.68,136.20 537.35,135.05 538.03,133.83 538.70,132.54 539.38,131.19 540.05,129.78 540.73,128.31 541.40,126.78 542.07,125.20 542.75,123.57 543.42,121.89 544.10,120.17 544.77,118.40 545.45,116.61 546.12,114.78 546.80,112.92 547.47,111.04 548.15,109.13 548.82,107.22 549.50,105.28 550.17,103.34 550.85,101.40 551.52,99.46 552.20,97.52 552.87,95.58 553.54,93.67 554.22,91.76 554.89,89.88 555.57,88.02 556.24,86.19 556.92,84.40 557.59,82.63 558.27,80.91 558.94,79.23 559.62,77.60 560.29,76.02 560.97,74.49 561.64,73.02 562.32,71.61 562.99,70.26 563.67,68.97 564.34,67.75 565.01,66.60 565.69,65.52 566.36,64.51 567.04,63.58 567.71,62.72 568.39,61.94 569.06,61.24 569.74,60.62 570.41,60.08 571.09,59.62 571.76,59.23 572.44,58.93 573.11,58.71 573.79,58.58 574.46,58.51 575.14,58.53 575.81,58.63 576.48,58.80 577.16,59.05 577.83,59.37 578.51,59.76 579.18,60.22 579.86,60.75 580.53,61.35 581.21,62.00 581.88,62.72 582.56,63.50 583.23,64.32 583.91,65.20 584.58,66.13 585.26,67.10 585.93,68.12 586.61,69.17 587.28,70.26 587.95,71.37 588.63,72.51 589.30,73.68 589.98,74.86 590.65,76.06 591.33,77.28 592.00,78.49 592.68,79.72 593.35,80.94 594.03,82.15 594.70,83.36 595.38,84.56 596.05,85.74 596.73,86.90 597.40,88.04 598.07,89.15 598.75,90.23 599.42,91.28 600.10,92.29 600.77,93.26 601.45,94.19 602.12,95.07 602.80,95.91 603.47,96.69 604.15,97.42 604.82,98.09 605.50,98.71 606.17,99.26 606.85,99.76 607.52,100.19 608.20,100.56 608.87,100.86 609.54,101.10 610.22,101.26 610.89,101.37 611.57,101.40 612.24,101.37 612.92,101.26 613.59,101.10 614.27,100.86 614.94,100.56 615.62,100.19 616.29,99.76 616.97,99.26 617.64,98.71 618.32,98.09 618.99,97.42 619.67,96.69 620.34,95.91 621.01,95.07 621.69,94.19 622.36,93.26 623.04,92.29 623.71,91.28 624.39,90.23 625.06,89.15 625.74,88.04 626.41,86.90 627.09,85.74 627.76,84.56 628.44,83.36 629.11,82.15 629.79,80.94 630.46,79.72 631.14,78.49 631.81,77.28 632.48,76.06 633.16,74.86 633.83,73.68 634.51,72.51 635.18,71.37 635.86,70.26 636.53,69.17 637.21,68.12 637.88,67.10 638.56,66.13 639.23,65.20 639.91,64.32 640.58,63.50 641.26,62.72 641.93,62.00 642.61,61.35 643.28,60.75 643.95,60.22 644.63,59.76 645.30,59.37 645.98,59.05 646.65,58.80 647.33,58.63 648.00,58.53 648.68,58.51 649.35,58.58 650.03,58.71 650.70,58.93 651.38,59.23 652.05,59.62 652.73,60.08 653.40,60.62 654.08,61.24 654.75,61.94 655.42,62.72 656.10,63.58 656.77,64.51 657.45,65.52 658.12,66.60 658.80,67.75 659.47,68.97 660.15,70.26 660.82,71.61 661.50,73.02 662.17,74.49 662.85,76.02 663.52,77.60 664.20,79.23 664.87,80.91 665.54,82.63 666.22,84.40 666.89,86.19 667.57,88.02 668.24,89.88 668.92,91.76 669.59,93.67 670.27,95.58 670.94,97.52 671.62,99.46 672.29,101.40" fill="none" stroke="#111" stroke-width="1.7" stroke-linejoin="round"/>
<rect x="422.70" y="6.40" width="255.80" height="189.20" fill="none" stroke="#3a3a3a" stroke-width="1.3"/>
<line x1="429.40" y1="195.60" x2="429.40" y2="188.60" stroke="#3a3a3a" stroke-width="1.3"/>
<line x1="429.40" y1="6.40" x2="429.40" y2="13.40" stroke="#3a3a3a" stroke-width="1.3"/>
<line x1="490.12" y1="195.60" x2="490.12" y2="188.60" stroke="#3a3a3a" stroke-width="1.3"/>
<line x1="490.12" y1="6.40" x2="490.12" y2="13.40" stroke="#3a3a3a" stroke-width="1.3"/>
<line x1="550.85" y1="195.60" x2="550.85" y2="188.60" stroke="#3a3a3a" stroke-width="1.3"/>
<line x1="550.85" y1="6.40" x2="550.85" y2="13.40" stroke="#3a3a3a" stroke-width="1.3"/>
<line x1="611.57" y1="195.60" x2="611.57" y2="188.60" stroke="#3a3a3a" stroke-width="1.3"/>
<line x1="611.57" y1="6.40" x2="611.57" y2="13.40" stroke="#3a3a3a" stroke-width="1.3"/>
<line x1="672.29" y1="195.60" x2="672.29" y2="188.60" stroke="#3a3a3a" stroke-width="1.3"/>
<line x1="672.29" y1="6.40" x2="672.29" y2="13.40" stroke="#3a3a3a" stroke-width="1.3"/>
<line x1="459.76" y1="195.60" x2="459.76" y2="191.90" stroke="#3a3a3a" stroke-width="1.3"/>
<line x1="459.76" y1="6.40" x2="459.76" y2="10.10" stroke="#3a3a3a" stroke-width="1.3"/>
<line x1="520.48" y1="195.60" x2="520.48" y2="191.90" stroke="#3a3a3a" stroke-width="1.3"/>
<line x1="520.48" y1="6.40" x2="520.48" y2="10.10" stroke="#3a3a3a" stroke-width="1.3"/>
<line x1="581.21" y1="195.60" x2="581.21" y2="191.90" stroke="#3a3a3a" stroke-width="1.3"/>
<line x1="581.21" y1="6.40" x2="581.21" y2="10.10" stroke="#3a3a3a" stroke-width="1.3"/>
<line x1="641.93" y1="195.60" x2="641.93" y2="191.90" stroke="#3a3a3a" stroke-width="1.3"/>
<line x1="641.93" y1="6.40" x2="641.93" y2="10.10" stroke="#3a3a3a" stroke-width="1.3"/>
<line x1="422.70" y1="177.20" x2="429.70" y2="177.20" stroke="#3a3a3a" stroke-width="1.3"/>
<line x1="678.50" y1="177.20" x2="671.50" y2="177.20" stroke="#3a3a3a" stroke-width="1.3"/>
<line x1="422.70" y1="101.40" x2="429.70" y2="101.40" stroke="#3a3a3a" stroke-width="1.3"/>
<line x1="678.50" y1="101.40" x2="671.50" y2="101.40" stroke="#3a3a3a" stroke-width="1.3"/>
<line x1="422.70" y1="25.60" x2="429.70" y2="25.60" stroke="#3a3a3a" stroke-width="1.3"/>
<line x1="678.50" y1="25.60" x2="671.50" y2="25.60" stroke="#3a3a3a" stroke-width="1.3"/>
<line x1="422.70" y1="139.30" x2="426.40" y2="139.30" stroke="#3a3a3a" stroke-width="1.3"/>
<line x1="678.50" y1="139.30" x2="674.80" y2="139.30" stroke="#3a3a3a" stroke-width="1.3"/>
<line x1="422.70" y1="63.50" x2="426.40" y2="63.50" stroke="#3a3a3a" stroke-width="1.3"/>
<line x1="678.50" y1="63.50" x2="674.80" y2="63.50" stroke="#3a3a3a" stroke-width="1.3"/>
<text transform="translate(415.00,29.90) scale(1,1.08)" font-size="15" fill="#111" text-anchor="end" >20</text>
<text transform="translate(415.00,105.70) scale(1,1.08)" font-size="15" fill="#111" text-anchor="end" >0</text>
<text transform="translate(415.00,181.50) scale(1,1.08)" font-size="15" fill="#111" text-anchor="end" >-20</text>
<text transform="translate(429.40,215.40) scale(1,1.05)" font-size="15" fill="#111" text-anchor="middle" >0</text>
<text transform="translate(490.12,215.40) scale(1,1.05)" font-size="15" fill="#111" text-anchor="middle" >90</text>
<text transform="translate(550.85,215.40) scale(1,1.05)" font-size="15" fill="#111" text-anchor="middle" >180</text>
<text transform="translate(611.57,215.40) scale(1,1.05)" font-size="15" fill="#111" text-anchor="middle" >270</text>
<text transform="translate(672.29,215.40) scale(1,1.05)" font-size="15" fill="#111" text-anchor="middle" >360</text>
<rect x="76.60" y="249.60" width="255.60" height="188.60" fill="none" stroke="#707070" stroke-width="1.3"/>
<line x1="76.60" y1="438.20" x2="76.60" y2="431.20" stroke="#707070" stroke-width="1.3"/>
<line x1="76.60" y1="249.60" x2="76.60" y2="256.60" stroke="#707070" stroke-width="1.3"/>
<line x1="140.50" y1="438.20" x2="140.50" y2="431.20" stroke="#707070" stroke-width="1.3"/>
<line x1="140.50" y1="249.60" x2="140.50" y2="256.60" stroke="#707070" stroke-width="1.3"/>
<line x1="204.40" y1="438.20" x2="204.40" y2="431.20" stroke="#707070" stroke-width="1.3"/>
<line x1="204.40" y1="249.60" x2="204.40" y2="256.60" stroke="#707070" stroke-width="1.3"/>
<line x1="268.30" y1="438.20" x2="268.30" y2="431.20" stroke="#707070" stroke-width="1.3"/>
<line x1="268.30" y1="249.60" x2="268.30" y2="256.60" stroke="#707070" stroke-width="1.3"/>
<line x1="332.20" y1="438.20" x2="332.20" y2="431.20" stroke="#707070" stroke-width="1.3"/>
<line x1="332.20" y1="249.60" x2="332.20" y2="256.60" stroke="#707070" stroke-width="1.3"/>
<line x1="108.55" y1="438.20" x2="108.55" y2="434.20" stroke="#707070" stroke-width="1.3"/>
<line x1="108.55" y1="249.60" x2="108.55" y2="253.60" stroke="#707070" stroke-width="1.3"/>
<line x1="172.45" y1="438.20" x2="172.45" y2="434.20" stroke="#707070" stroke-width="1.3"/>
<line x1="172.45" y1="249.60" x2="172.45" y2="253.60" stroke="#707070" stroke-width="1.3"/>
<line x1="236.35" y1="438.20" x2="236.35" y2="434.20" stroke="#707070" stroke-width="1.3"/>
<line x1="236.35" y1="249.60" x2="236.35" y2="253.60" stroke="#707070" stroke-width="1.3"/>
<line x1="300.25" y1="438.20" x2="300.25" y2="434.20" stroke="#707070" stroke-width="1.3"/>
<line x1="300.25" y1="249.60" x2="300.25" y2="253.60" stroke="#707070" stroke-width="1.3"/>
<line x1="76.60" y1="438.20" x2="83.60" y2="438.20" stroke="#707070" stroke-width="1.3"/>
<line x1="332.20" y1="438.20" x2="325.20" y2="438.20" stroke="#707070" stroke-width="1.3"/>
<line x1="76.60" y1="343.90" x2="83.60" y2="343.90" stroke="#707070" stroke-width="1.3"/>
<line x1="332.20" y1="343.90" x2="325.20" y2="343.90" stroke="#707070" stroke-width="1.3"/>
<line x1="76.60" y1="249.60" x2="83.60" y2="249.60" stroke="#707070" stroke-width="1.3"/>
<line x1="332.20" y1="249.60" x2="325.20" y2="249.60" stroke="#707070" stroke-width="1.3"/>
<line x1="76.60" y1="391.05" x2="80.60" y2="391.05" stroke="#707070" stroke-width="1.3"/>
<line x1="332.20" y1="391.05" x2="328.20" y2="391.05" stroke="#707070" stroke-width="1.3"/>
<line x1="76.60" y1="296.75" x2="80.60" y2="296.75" stroke="#707070" stroke-width="1.3"/>
<line x1="332.20" y1="296.75" x2="328.20" y2="296.75" stroke="#707070" stroke-width="1.3"/>
<circle cx="82.6" cy="355.6" r="4.4" fill="none" stroke="#ff1a1a" stroke-width="1.1"/>
<circle cx="113.1" cy="360.9" r="4.4" fill="none" stroke="#ff1a1a" stroke-width="1.1"/>
<circle cx="143.4" cy="352.1" r="4.4" fill="none" stroke="#ff1a1a" stroke-width="1.1"/>
<circle cx="173.8" cy="350.2" r="4.4" fill="none" stroke="#ff1a1a" stroke-width="1.1"/>
<circle cx="204.3" cy="358.8" r="4.4" fill="none" stroke="#ff1a1a" stroke-width="1.1"/>
<circle cx="234.9" cy="366.6" r="4.4" fill="none" stroke="#ff1a1a" stroke-width="1.1"/>
<circle cx="265.1" cy="367.0" r="4.4" fill="none" stroke="#ff1a1a" stroke-width="1.1"/>
<circle cx="295.6" cy="359.5" r="4.4" fill="none" stroke="#ff1a1a" stroke-width="1.1"/>
<circle cx="326.0" cy="369.6" r="4.4" fill="none" stroke="#ff1a1a" stroke-width="1.1"/>
<circle cx="82.6" cy="371.2" r="4.65" fill="#ff1a1a"/>
<circle cx="113.1" cy="365.3" r="4.65" fill="#ff1a1a"/>
<circle cx="143.4" cy="367.4" r="4.65" fill="#ff1a1a"/>
<circle cx="173.8" cy="360.3" r="4.65" fill="#ff1a1a"/>
<circle cx="204.3" cy="352.7" r="4.65" fill="#ff1a1a"/>
<circle cx="234.9" cy="349.6" r="4.65" fill="#ff1a1a"/>
<circle cx="265.1" cy="348.2" r="4.65" fill="#ff1a1a"/>
<circle cx="295.6" cy="341.1" r="4.65" fill="#ff1a1a"/>
<circle cx="326.0" cy="339.1" r="4.65" fill="#ff1a1a"/>
<line x1="82.60" y1="371.50" x2="326.20" y2="338.40" stroke="#111" stroke-width="1.8"/>
<line x1="82.60" y1="353.50" x2="326.20" y2="368.00" stroke="#111" stroke-width="1.8"/>
<text transform="translate(68.10,254.40) scale(1,1.1)" font-size="15.5" fill="#111" text-anchor="end" >0.024</text>
<text transform="translate(68.10,348.70) scale(1,1.1)" font-size="15.5" fill="#111" text-anchor="end" >0.022</text>
<text transform="translate(68.10,443.00) scale(1,1.1)" font-size="15.5" fill="#111" text-anchor="end" >0.020</text>
<text transform="translate(76.60,457.60) scale(1,1.15)" font-size="15" fill="#111" text-anchor="middle" >-4</text>
<text transform="translate(140.50,457.60) scale(1,1.15)" font-size="15" fill="#111" text-anchor="middle" >-2</text>
<text transform="translate(204.40,457.60) scale(1,1.15)" font-size="15" fill="#111" text-anchor="middle" >0</text>
<text transform="translate(268.30,457.60) scale(1,1.15)" font-size="15" fill="#111" text-anchor="middle" >2</text>
<text transform="translate(332.20,457.60) scale(1,1.15)" font-size="15" fill="#111" text-anchor="middle" >4</text>
<rect x="417.80" y="246.40" width="259.60" height="192.50" fill="none" stroke="#333" stroke-width="1.3"/>
<line x1="417.80" y1="438.90" x2="417.80" y2="431.90" stroke="#333" stroke-width="1.3"/>
<line x1="417.80" y1="246.40" x2="417.80" y2="253.40" stroke="#333" stroke-width="1.3"/>
<line x1="482.70" y1="438.90" x2="482.70" y2="431.90" stroke="#333" stroke-width="1.3"/>
<line x1="482.70" y1="246.40" x2="482.70" y2="253.40" stroke="#333" stroke-width="1.3"/>
<line x1="547.60" y1="438.90" x2="547.60" y2="431.90" stroke="#333" stroke-width="1.3"/>
<line x1="547.60" y1="246.40" x2="547.60" y2="253.40" stroke="#333" stroke-width="1.3"/>
<line x1="612.50" y1="438.90" x2="612.50" y2="431.90" stroke="#333" stroke-width="1.3"/>
<line x1="612.50" y1="246.40" x2="612.50" y2="253.40" stroke="#333" stroke-width="1.3"/>
<line x1="677.40" y1="438.90" x2="677.40" y2="431.90" stroke="#333" stroke-width="1.3"/>
<line x1="677.40" y1="246.40" x2="677.40" y2="253.40" stroke="#333" stroke-width="1.3"/>
<line x1="450.25" y1="438.90" x2="450.25" y2="435.20" stroke="#333" stroke-width="1.3"/>
<line x1="450.25" y1="246.40" x2="450.25" y2="250.10" stroke="#333" stroke-width="1.3"/>
<line x1="515.15" y1="438.90" x2="515.15" y2="435.20" stroke="#333" stroke-width="1.3"/>
<line x1="515.15" y1="246.40" x2="515.15" y2="250.10" stroke="#333" stroke-width="1.3"/>
<line x1="580.05" y1="438.90" x2="580.05" y2="435.20" stroke="#333" stroke-width="1.3"/>
<line x1="580.05" y1="246.40" x2="580.05" y2="250.10" stroke="#333" stroke-width="1.3"/>
<line x1="644.95" y1="438.90" x2="644.95" y2="435.20" stroke="#333" stroke-width="1.3"/>
<line x1="644.95" y1="246.40" x2="644.95" y2="250.10" stroke="#333" stroke-width="1.3"/>
<line x1="417.80" y1="438.94" x2="424.80" y2="438.94" stroke="#333" stroke-width="1.3"/>
<line x1="677.40" y1="438.94" x2="670.40" y2="438.94" stroke="#333" stroke-width="1.3"/>
<line x1="417.80" y1="342.70" x2="424.80" y2="342.70" stroke="#333" stroke-width="1.3"/>
<line x1="677.40" y1="342.70" x2="670.40" y2="342.70" stroke="#333" stroke-width="1.3"/>
<line x1="417.80" y1="246.46" x2="424.80" y2="246.46" stroke="#333" stroke-width="1.3"/>
<line x1="677.40" y1="246.46" x2="670.40" y2="246.46" stroke="#333" stroke-width="1.3"/>
<line x1="417.80" y1="390.82" x2="421.50" y2="390.82" stroke="#333" stroke-width="1.3"/>
<line x1="677.40" y1="390.82" x2="673.70" y2="390.82" stroke="#333" stroke-width="1.3"/>
<line x1="417.80" y1="294.58" x2="421.50" y2="294.58" stroke="#333" stroke-width="1.3"/>
<line x1="677.40" y1="294.58" x2="673.70" y2="294.58" stroke="#333" stroke-width="1.3"/>
<circle cx="523.6" cy="323.8" r="4.4" fill="#1a1a8c"/>
<circle cx="529.8" cy="327.4" r="4.4" fill="#1a1a8c"/>
<circle cx="535.7" cy="315.1" r="4.4" fill="#1a1a8c"/>
<circle cx="541.7" cy="305.2" r="4.4" fill="#1a1a8c"/>
<circle cx="547.4" cy="304.6" r="4.4" fill="#1a1a8c"/>
<circle cx="553.7" cy="295.4" r="4.4" fill="#1a1a8c"/>
<circle cx="559.4" cy="289.7" r="4.4" fill="#1a1a8c"/>
<circle cx="565.4" cy="282.5" r="4.4" fill="#1a1a8c"/>
<circle cx="571.5" cy="275.0" r="4.4" fill="#1a1a8c"/>
<circle cx="523.6" cy="264.0" r="3.5" fill="none" stroke="#1a1a8c" stroke-width="1.5"/>
<circle cx="529.8" cy="264.9" r="3.5" fill="none" stroke="#1a1a8c" stroke-width="1.5"/>
<circle cx="535.7" cy="276.5" r="3.5" fill="none" stroke="#1a1a8c" stroke-width="1.5"/>
<circle cx="541.7" cy="290.5" r="3.5" fill="none" stroke="#1a1a8c" stroke-width="1.5"/>
<circle cx="547.4" cy="298.7" r="3.5" fill="none" stroke="#1a1a8c" stroke-width="1.5"/>
<circle cx="553.7" cy="305.9" r="3.5" fill="none" stroke="#1a1a8c" stroke-width="1.5"/>
<circle cx="559.4" cy="314.1" r="3.5" fill="none" stroke="#1a1a8c" stroke-width="1.5"/>
<circle cx="565.4" cy="325.0" r="3.5" fill="none" stroke="#1a1a8c" stroke-width="1.5"/>
<circle cx="571.5" cy="326.6" r="3.5" fill="none" stroke="#1a1a8c" stroke-width="1.5"/>
<line x1="523.80" y1="328.40" x2="571.40" y2="276.00" stroke="#111" stroke-width="1.8"/>
<line x1="523.60" y1="261.20" x2="571.70" y2="331.30" stroke="#111" stroke-width="1.8"/>
<text transform="translate(409.00,251.06) scale(1,1.1)" font-size="15.5" fill="#111" text-anchor="end" >0.020</text>
<text transform="translate(409.00,347.30) scale(1,1.1)" font-size="15.5" fill="#111" text-anchor="end" >0.018</text>
<text transform="translate(409.00,443.54) scale(1,1.1)" font-size="15.5" fill="#111" text-anchor="end" >0.016</text>
<text transform="translate(417.80,455.90) scale(1,1.1)" font-size="15" fill="#111" text-anchor="middle" >-4</text>
<text transform="translate(482.70,455.90) scale(1,1.1)" font-size="15" fill="#111" text-anchor="middle" >-2</text>
<text transform="translate(547.60,455.90) scale(1,1.1)" font-size="15" fill="#111" text-anchor="middle" >0</text>
<text transform="translate(612.50,455.90) scale(1,1.1)" font-size="15" fill="#111" text-anchor="middle" >2</text>
<text transform="translate(677.40,455.90) scale(1,1.1)" font-size="15" fill="#111" text-anchor="middle" >4</text>
<text transform="translate(6.5,14.8) scale(0.86,1.02)" font-size="20" fill="#111">a</text>
<text x="348.00" y="16.40" font-size="20" fill="#111" text-anchor="start">b</text>
<text x="0.30" y="254.00" font-size="20" fill="#111" text-anchor="start">c</text>
<text x="346.30" y="252.80" font-size="20" fill="#111" text-anchor="start">d</text>
<text transform="translate(49.20,103.30) rotate(-90)" x="0" y="0" font-size="16" fill="#111" text-anchor="middle"><tspan font-style="italic">V</tspan> (<tspan font-family='"Liberation Serif", serif' font-size="13.5">&#956;</tspan>V)</text>
<text transform="translate(393.50,100.50) rotate(-90)" x="0" y="0" font-size="16" fill="#111" text-anchor="middle"><tspan font-style="italic">V</tspan> (<tspan font-family='"Liberation Serif", serif' font-size="13.5">&#956;</tspan>V)</text>
<text x="184.60" y="230.40" font-size="15" fill="#111"><tspan font-family='"Liberation Serif", serif' font-style="italic" font-size="14.5">&#981;</tspan><tspan dx="0.3"> (deg)</tspan></text>
<text x="534.80" y="232.40" font-size="15" fill="#111"><tspan font-family='"Liberation Serif", serif' font-style="italic" font-size="14.5">&#981;</tspan><tspan dx="0.3"> (deg)</tspan></text>
<line x1="86.10" y1="18.65" x2="115.00" y2="18.65" stroke="#111" stroke-width="2"/>
<text x="118.00" y="23.00" font-size="12.5" fill="#111">sin2<tspan font-family='"Liberation Serif", serif' font-style="italic" font-size="12.5" dx="0.9">&#981;</tspan><tspan dx="2.2">cos</tspan><tspan font-family='"Liberation Serif", serif' font-style="italic" font-size="12.5" dx="1.3">&#981;</tspan></text>
<line x1="429.90" y1="20.50" x2="458.00" y2="20.50" stroke="#111" stroke-width="2"/>
<text x="461.60" y="25.00" font-size="12.5" fill="#111">sin2<tspan font-family='"Liberation Serif", serif' font-style="italic" font-size="12.5" dx="0.9">&#981;</tspan><tspan dx="2.2">cos</tspan><tspan font-family='"Liberation Serif", serif' font-style="italic" font-size="12.5" dx="1.3">&#981;</tspan></text>
<circle cx="261.9" cy="142.8" r="4.2" fill="none" stroke="#2f8f22" stroke-width="1.45"/>
<circle cx="261.9" cy="158.3" r="4.2" fill="none" stroke="#4a8ef5" stroke-width="1.45"/>
<text x="278.80" y="146.90" font-size="12.5" fill="#111" text-anchor="start">Sym (S)</text>
<text x="278.80" y="161.50" font-size="12.5" fill="#111" text-anchor="start">Asym (A)</text>
<circle cx="596.9" cy="144.3" r="4.2" fill="none" stroke="#2f8f22" stroke-width="1.45"/>
<circle cx="596.9" cy="159.9" r="4.2" fill="none" stroke="#4a8ef5" stroke-width="1.45"/>
<text x="614.80" y="148.50" font-size="12.5" fill="#111" text-anchor="start">Sym (S)</text>
<text x="614.80" y="164.00" font-size="12.5" fill="#111" text-anchor="start">Asym (A)</text>
<text x="292.50" y="183.40" font-size="15" fill="#ff1a1a" text-anchor="start">Pt</text>
<text x="630.50" y="185.10" font-size="15.5" fill="#2222cc" text-anchor="start">Pt (P)</text>
<line x1="84.40" y1="267.00" x2="119.40" y2="267.00" stroke="#111" stroke-width="2"/>
<text x="123.20" y="271.80" font-size="15" fill="#111" text-anchor="start">linear fit</text>
<line x1="419.40" y1="258.90" x2="454.40" y2="258.90" stroke="#111" stroke-width="2"/>
<text x="458.10" y="264.00" font-size="15" fill="#111" text-anchor="start">linear fit</text>
<circle cx="97.6" cy="395.6" r="5.0" fill="#ff1a1a"/>
<circle cx="97.6" cy="418.2" r="4.4" fill="none" stroke="#ff1a1a" stroke-width="1.1"/>
<text x="113.90" y="400.60" font-size="14.8" fill="#ff1a1a" font-style="italic">+H<tspan font-size="9.2" font-style="normal" dy="6.2" dx="0.6">ext</tspan></text>
<text x="113.90" y="423.20" font-size="14.8" fill="#ff1a1a" font-style="italic">-H<tspan font-size="9.2" font-style="normal" dy="6.2" dx="0.6">ext</tspan></text>
<circle cx="432.1" cy="394.6" r="5.0" fill="#1a1a8c"/>
<circle cx="432.1" cy="419.0" r="4.4" fill="none" stroke="#1a1a8c" stroke-width="1.5"/>
<text x="454.00" y="399.70" font-size="14.8" fill="#1a1a8c" font-style="italic">+H<tspan font-size="9.2" font-style="normal" dy="6.2" dx="0.6">ext</tspan></text>
<text x="454.00" y="423.80" font-size="14.8" fill="#1a1a8c" font-style="italic">-H<tspan font-size="9.2" font-style="normal" dy="6.2" dx="0.6">ext</tspan></text>
<text x="289.60" y="427.20" font-size="15.5" fill="#ff1a1a" text-anchor="start">Pt</text>
<text x="629.30" y="427.20" font-size="15.5" fill="#2626d0" text-anchor="start">Pt (P)</text>
<text transform="translate(10.80,354.30) rotate(-90)" x="0" y="0" font-size="16" fill="#111" text-anchor="middle"><tspan font-family='"Liberation Serif", serif' font-style="italic">&#945;</tspan></text>
<text transform="translate(20.30,350.60) rotate(-90) scale(1.3,1)" x="0" y="0" font-size="7.6" fill="#111">eff</text>
<text transform="translate(350.00,356.40) rotate(-90)" x="0" y="0" font-size="16" fill="#111" text-anchor="middle"><tspan font-family='"Liberation Serif", serif' font-style="italic">&#945;</tspan></text>
<text transform="translate(359.40,353.30) rotate(-90) scale(1.3,1)" x="0" y="0" font-size="7.6" fill="#111">eff</text>
<text transform="translate(155.6,480.0) scale(1,0.92)" font-size="14.8" fill="#111"><tspan font-style="italic">j</tspan><tspan font-size="9.3" dy="6.5" dx="0.2">dc</tspan><tspan dy="-6.5" dx="0.5">&#215;10</tspan><tspan font-size="9.3" dy="-9.2" dx="0.6">10</tspan><tspan dy="9.2" dx="1.2"> (A/m</tspan><tspan font-size="9.3" dy="-9.2" dx="1.2">2</tspan><tspan dy="9.2" dx="0.8">)</tspan></text>
<text transform="translate(504.0,478.8) scale(1,0.92)" font-size="14.8" fill="#111"><tspan font-style="italic">j</tspan><tspan font-size="9.3" dy="6.5" dx="0.2">dc</tspan><tspan dy="-6.5"> (10</tspan><tspan font-size="9.3" dy="-9.2" dx="0.3">10</tspan><tspan dy="9.2" dx="0.8">A/m</tspan><tspan font-size="9.3" dy="-9.2" dx="0.1">2</tspan><tspan dy="9.2" dx="1.0">)</tspan></text>
</svg></body></html>
